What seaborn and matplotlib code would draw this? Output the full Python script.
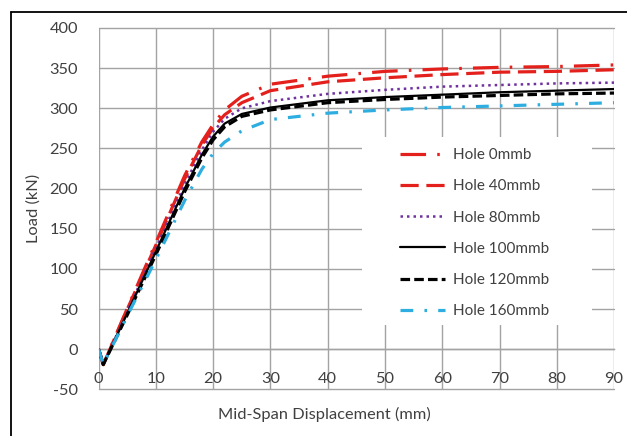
import numpy as np
import pandas as pd
import matplotlib
matplotlib.use("Agg")
import matplotlib.pyplot as plt
import seaborn as sns
from matplotlib.lines import Line2D
from matplotlib.patches import Rectangle

# ---- data ----
x_0 = [0, 0.8, 5, 10, 15, 18, 20, 22, 25, 30, 40, 50, 60, 70, 80, 90]
y_0 = [0, -19, 51, 133, 216, 258, 280, 298, 315, 330, 340, 346, 349, 351, 352, 354]

x_40 = [0, 0.8, 5, 10, 15, 18, 20, 22, 25, 30, 40, 50, 60, 70, 80, 90]
y_40 = [0, -19, 50, 130, 212, 254, 276, 292, 307, 322, 333, 338, 342, 345, 346, 348]

x_80 = [0, 0.8, 5, 10, 15, 18, 20, 22, 25, 30, 40, 50, 60, 70, 80, 90]
y_80 = [0, -19, 47, 126, 205, 248, 271, 287, 300, 309, 318, 323, 327, 329, 331, 332]

x_100 = [0, 0.8, 5, 10, 15, 18, 20, 22, 25, 30, 40, 50, 60, 70, 80, 90]
y_100 = [0, -19, 45, 122, 200, 242, 265, 281, 293, 301, 310, 314, 317, 320, 322, 324]

x_120 = [0, 0.8, 5, 10, 15, 18, 20, 22, 25, 30, 40, 50, 60, 70, 80, 90]
y_120 = [0, -19, 43, 118, 196, 238, 261, 277, 290, 298, 307, 311, 314, 316, 318, 319]

x_160 = [0, 0.8, 5, 10, 15, 18, 20, 22, 25, 30, 40, 50, 60, 70, 80, 90]
y_160 = [0, -19, 42, 112, 185, 224, 244, 258, 272, 286, 294, 298, 301, 303, 305, 307]

labels = ["Hole 0mmb", "Hole 40mmb", "Hole 80mmb", "Hole 100mmb", "Hole 120mmb", "Hole 160mmb"]
xs = [x_0, x_40, x_80, x_100, x_120, x_160]
ys = [y_0, y_40, y_80, y_100, y_120, y_160]

x_ticks = [0, 10, 20, 30, 40, 50, 60, 70, 80, 90]
y_ticks = [-50, 0, 50, 100, 150, 200, 250, 300, 350, 400]

# ---- styles ----
styles = [
    dict(color="#e3201c", lw=2.3, ls=(0, (8, 3.5, 0.8, 3.5))),
    dict(color="#e3201c", lw=2.3, ls=(0, (5.7, 2.4))),
    dict(color="#7030a0", lw=1.8, ls=(0, (1, 1.6))),
    dict(color="#000000", lw=1.6, ls="-"),
    dict(color="#000000", lw=2.3, ls=(0, (3, 1.3))),
    dict(color="#2eaee0", lw=2.3, ls=(0, (4, 3.5, 0.8, 3.5))),
]

sns.set_theme(style="white")
FONT = ["Lato", "DejaVu Sans"]
plt.rcParams["font.family"] = FONT

fig = plt.figure(figsize=(6.27, 4.36), dpi=100)
ax = fig.add_axes([0.1574, 0.1067, 0.8219, 0.8291])

for lab, xv, yv, st in zip(labels, xs, ys, styles):
    df = pd.DataFrame({"x": xv, "y": yv})
    sns.lineplot(data=df, x="x", y="y", ax=ax, color=st["color"], lw=st["lw"],
                 linestyle=st["ls"], label=lab, sort=False, estimator=None, zorder=3)

ax.set_xlim(0, 90)
ax.set_ylim(-50, 400)
ax.set_xticks(x_ticks)
ax.set_yticks(y_ticks)
ax.set_xticklabels([str(v) for v in x_ticks])
ax.set_yticklabels([str(v) for v in y_ticks])

ax.set_axisbelow(True)
ax.grid(True, color="#a3a3a3", lw=1.0)
for gl in ax.get_xgridlines() + ax.get_ygridlines():
    gl.set_clip_on(False)

for s in ["left", "top", "right"]:
    ax.spines[s].set_visible(False)
ax.spines["bottom"].set_position(("data", 0))
ax.spines["bottom"].set_color("#a3a3a3")
ax.spines["bottom"].set_linewidth(1.0)

ax.tick_params(axis="both", length=0, labelsize=11.8, colors="#404040")
ax.tick_params(axis="y", pad=15)
ax.tick_params(axis="x", pad=16)

ax.set_xlabel("Mid-Span Displacement (mm)", fontsize=11.8, color="#404040")
ax.set_ylabel("Load (kN)", fontsize=11.8, color="#404040")
ax.xaxis.label.set_va("center")
ax.yaxis.label.set_va("center")
ax.xaxis.set_label_coords(0.437, -0.0705)
ax.yaxis.set_label_coords(-0.1256, 0.5)

# white legend area
ax.add_patch(Rectangle((0.511, 0.178), 0.446, 0.52, transform=ax.transAxes,
                       facecolor="white", edgecolor="none", zorder=1))
leg = ax.legend(loc="upper left", bbox_to_anchor=(0.585, 0.668), frameon=False,
                fontsize=11, handlelength=2.95, handletextpad=0.5, labelspacing=1.13,
                borderpad=0, borderaxespad=0)
for t in leg.get_texts():
    t.set_color("#404040")

# outer figure border (left and top)
xl = 10.5 / 627
yt = 1 - 12.5 / 436
fig.add_artist(Line2D([xl, xl], [0, yt], transform=fig.transFigure, color="black", lw=1.3))
fig.add_artist(Line2D([xl, 1], [yt, yt], transform=fig.transFigure, color="black", lw=1.3))

fig.savefig("out.png", dpi=100, facecolor="white")
